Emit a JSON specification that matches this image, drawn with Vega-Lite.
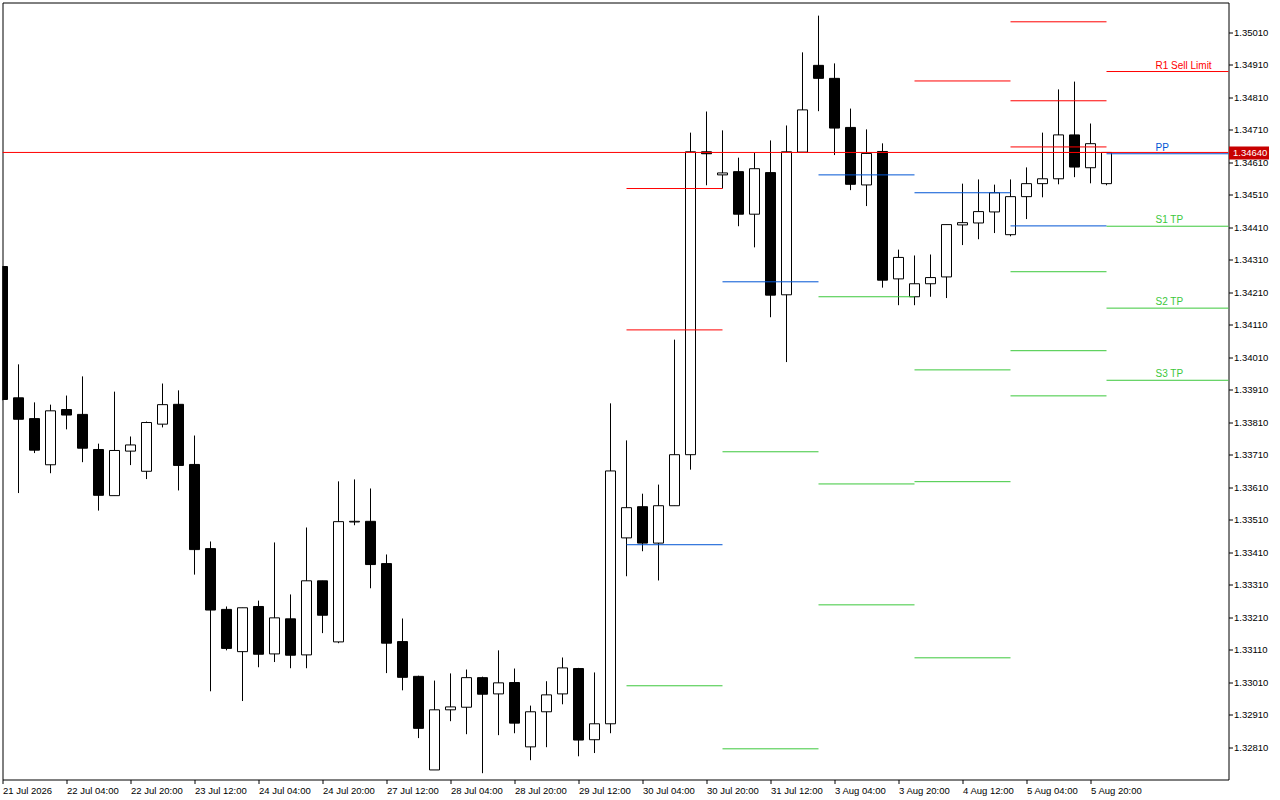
{
  "$schema": "https://vega.github.io/schema/vega-lite/v6.json",
  "width": 1226,
  "height": 777,
  "autosize": "none",
  "padding": {"left": 2.5, "top": 2.5, "right": 51.5, "bottom": 20.5},
  "background": "#ffffff",
  "config": {
    "view": {"stroke": "#000000", "strokeWidth": 1},
    "axis": {"labelFont": "Liberation Sans", "labelFontSize": 9.5, "labelColor": "#000000", "tickColor": "#000000", "labelOverlap": false}
  },
  "resolve": {"axis": {"x": "independent", "y": "independent"}},
  "datasets": {
    "candles": [
      {"t": "21 Jul 2026", "open": 1.34289, "high": 1.34289, "low": 1.33877, "close": 1.33880},
      {"t": "21 Jul 16:00", "open": 1.33885, "high": 1.33988, "low": 1.33592, "close": 1.33819},
      {"t": "21 Jul 20:00", "open": 1.33821, "high": 1.33871, "low": 1.33715, "close": 1.33724},
      {"t": "22 Jul 00:00", "open": 1.33679, "high": 1.33864, "low": 1.33653, "close": 1.33845},
      {"t": "22 Jul 04:00", "open": 1.33849, "high": 1.33892, "low": 1.33788, "close": 1.33832},
      {"t": "22 Jul 08:00", "open": 1.33834, "high": 1.33951, "low": 1.33687, "close": 1.33730},
      {"t": "22 Jul 12:00", "open": 1.33726, "high": 1.33744, "low": 1.33538, "close": 1.33585},
      {"t": "22 Jul 16:00", "open": 1.33584, "high": 1.33904, "low": 1.33584, "close": 1.33723},
      {"t": "22 Jul 20:00", "open": 1.33721, "high": 1.33766, "low": 1.33678, "close": 1.33740},
      {"t": "23 Jul 00:00", "open": 1.33659, "high": 1.33812, "low": 1.33635, "close": 1.33809},
      {"t": "23 Jul 04:00", "open": 1.33804, "high": 1.33929, "low": 1.33794, "close": 1.33864},
      {"t": "23 Jul 08:00", "open": 1.33865, "high": 1.33908, "low": 1.33600, "close": 1.33677},
      {"t": "23 Jul 12:00", "open": 1.33680, "high": 1.33769, "low": 1.33341, "close": 1.33418},
      {"t": "23 Jul 16:00", "open": 1.33421, "high": 1.33443, "low": 1.32982, "close": 1.33232},
      {"t": "23 Jul 20:00", "open": 1.33234, "high": 1.33243, "low": 1.33108, "close": 1.33114},
      {"t": "24 Jul 00:00", "open": 1.33104, "high": 1.33239, "low": 1.32952, "close": 1.33239},
      {"t": "24 Jul 04:00", "open": 1.33243, "high": 1.33261, "low": 1.33056, "close": 1.33096},
      {"t": "24 Jul 08:00", "open": 1.33097, "high": 1.33440, "low": 1.33072, "close": 1.33208},
      {"t": "24 Jul 12:00", "open": 1.33205, "high": 1.33280, "low": 1.33053, "close": 1.33093},
      {"t": "24 Jul 16:00", "open": 1.33094, "high": 1.33486, "low": 1.33053, "close": 1.33322},
      {"t": "24 Jul 20:00", "open": 1.33322, "high": 1.33322, "low": 1.33161, "close": 1.33216},
      {"t": "27 Jul 00:00", "open": 1.33134, "high": 1.33628, "low": 1.33130, "close": 1.33504},
      {"t": "27 Jul 04:00", "open": 1.33503, "high": 1.33634, "low": 1.33493, "close": 1.33505},
      {"t": "27 Jul 08:00", "open": 1.33505, "high": 1.33606, "low": 1.33299, "close": 1.33372},
      {"t": "27 Jul 12:00", "open": 1.33375, "high": 1.33403, "low": 1.33038, "close": 1.33130},
      {"t": "27 Jul 16:00", "open": 1.33135, "high": 1.33206, "low": 1.32985, "close": 1.33025},
      {"t": "27 Jul 20:00", "open": 1.33028, "high": 1.33030, "low": 1.32838, "close": 1.32868},
      {"t": "28 Jul 00:00", "open": 1.32740, "high": 1.33015, "low": 1.32740, "close": 1.32925},
      {"t": "28 Jul 04:00", "open": 1.32925, "high": 1.33037, "low": 1.32890, "close": 1.32934},
      {"t": "28 Jul 08:00", "open": 1.32933, "high": 1.33049, "low": 1.32850, "close": 1.33024},
      {"t": "28 Jul 12:00", "open": 1.33024, "high": 1.33027, "low": 1.32730, "close": 1.32973},
      {"t": "28 Jul 16:00", "open": 1.32974, "high": 1.33108, "low": 1.32847, "close": 1.33008},
      {"t": "28 Jul 20:00", "open": 1.33009, "high": 1.33052, "low": 1.32853, "close": 1.32884},
      {"t": "29 Jul 00:00", "open": 1.32811, "high": 1.32938, "low": 1.32770, "close": 1.32919},
      {"t": "29 Jul 04:00", "open": 1.32919, "high": 1.33013, "low": 1.32810, "close": 1.32971},
      {"t": "29 Jul 08:00", "open": 1.32974, "high": 1.33086, "low": 1.32942, "close": 1.33054},
      {"t": "29 Jul 12:00", "open": 1.33052, "high": 1.33054, "low": 1.32782, "close": 1.32832},
      {"t": "29 Jul 16:00", "open": 1.32833, "high": 1.33040, "low": 1.32792, "close": 1.32882},
      {"t": "29 Jul 20:00", "open": 1.32882, "high": 1.33868, "low": 1.32853, "close": 1.33660},
      {"t": "30 Jul 00:00", "open": 1.33454, "high": 1.33754, "low": 1.33336, "close": 1.33547},
      {"t": "30 Jul 04:00", "open": 1.33550, "high": 1.33590, "low": 1.33413, "close": 1.33438},
      {"t": "30 Jul 08:00", "open": 1.33438, "high": 1.33618, "low": 1.33323, "close": 1.33553},
      {"t": "30 Jul 12:00", "open": 1.33553, "high": 1.34064, "low": 1.33553, "close": 1.33710},
      {"t": "30 Jul 16:00", "open": 1.33710, "high": 1.34701, "low": 1.33664, "close": 1.34642},
      {"t": "30 Jul 20:00", "open": 1.34642, "high": 1.34766, "low": 1.34539, "close": 1.34636},
      {"t": "31 Jul 00:00", "open": 1.34571, "high": 1.34708, "low": 1.34529, "close": 1.34577},
      {"t": "31 Jul 04:00", "open": 1.34581, "high": 1.34624, "low": 1.34413, "close": 1.34450},
      {"t": "31 Jul 08:00", "open": 1.34450, "high": 1.34639, "low": 1.34348, "close": 1.34590},
      {"t": "31 Jul 12:00", "open": 1.34578, "high": 1.34677, "low": 1.34133, "close": 1.34201},
      {"t": "31 Jul 16:00", "open": 1.34202, "high": 1.34723, "low": 1.33995, "close": 1.34642},
      {"t": "31 Jul 20:00", "open": 1.34641, "high": 1.34948, "low": 1.34641, "close": 1.34771},
      {"t": "3 Aug 00:00", "open": 1.34908, "high": 1.35061, "low": 1.34767, "close": 1.34868},
      {"t": "3 Aug 04:00", "open": 1.34868, "high": 1.34914, "low": 1.34632, "close": 1.34715},
      {"t": "3 Aug 08:00", "open": 1.34717, "high": 1.34775, "low": 1.34524, "close": 1.34542},
      {"t": "3 Aug 12:00", "open": 1.34540, "high": 1.34711, "low": 1.34475, "close": 1.34637},
      {"t": "3 Aug 16:00", "open": 1.34643, "high": 1.34668, "low": 1.34224, "close": 1.34247},
      {"t": "3 Aug 20:00", "open": 1.34251, "high": 1.34341, "low": 1.34170, "close": 1.34317},
      {"t": "4 Aug 00:00", "open": 1.34196, "high": 1.34323, "low": 1.34170, "close": 1.34236},
      {"t": "4 Aug 04:00", "open": 1.34236, "high": 1.34326, "low": 1.34196, "close": 1.34255},
      {"t": "4 Aug 08:00", "open": 1.34257, "high": 1.34418, "low": 1.34192, "close": 1.34418},
      {"t": "4 Aug 12:00", "open": 1.34417, "high": 1.34544, "low": 1.34355, "close": 1.34424},
      {"t": "4 Aug 16:00", "open": 1.34423, "high": 1.34557, "low": 1.34373, "close": 1.34458},
      {"t": "4 Aug 20:00", "open": 1.34457, "high": 1.34541, "low": 1.34392, "close": 1.34516},
      {"t": "5 Aug 00:00", "open": 1.34387, "high": 1.34557, "low": 1.34382, "close": 1.34504},
      {"t": "5 Aug 04:00", "open": 1.34504, "high": 1.34594, "low": 1.34435, "close": 1.34544},
      {"t": "5 Aug 08:00", "open": 1.34544, "high": 1.34701, "low": 1.34502, "close": 1.34559},
      {"t": "5 Aug 12:00", "open": 1.34559, "high": 1.34834, "low": 1.34542, "close": 1.34694},
      {"t": "5 Aug 16:00", "open": 1.34694, "high": 1.34858, "low": 1.34564, "close": 1.34595},
      {"t": "5 Aug 20:00", "open": 1.34593, "high": 1.34729, "low": 1.34545, "close": 1.34667},
      {"t": "6 Aug 00:00", "open": 1.34544, "high": 1.34640, "low": 1.34539, "close": 1.34640}
    ],
    "levels": [
      {"from": "30 Jul 00:00", "to": "31 Jul 00:00", "level": "R2", "kind": "R", "price": 1.34529},
      {"from": "30 Jul 00:00", "to": "31 Jul 00:00", "level": "R1", "kind": "R", "price": 1.34094},
      {"from": "30 Jul 00:00", "to": "31 Jul 00:00", "level": "PP", "kind": "P", "price": 1.33433},
      {"from": "30 Jul 00:00", "to": "31 Jul 00:00", "level": "S1", "kind": "S", "price": 1.32999},
      {"from": "31 Jul 00:00", "to": "3 Aug 00:00", "level": "PP", "kind": "P", "price": 1.34242},
      {"from": "31 Jul 00:00", "to": "3 Aug 00:00", "level": "S1", "kind": "S", "price": 1.33719},
      {"from": "31 Jul 00:00", "to": "3 Aug 00:00", "level": "S2", "kind": "S", "price": 1.32805},
      {"from": "3 Aug 00:00", "to": "4 Aug 00:00", "level": "PP", "kind": "P", "price": 1.34571},
      {"from": "3 Aug 00:00", "to": "4 Aug 00:00", "level": "S1", "kind": "S", "price": 1.34196},
      {"from": "3 Aug 00:00", "to": "4 Aug 00:00", "level": "S2", "kind": "S", "price": 1.33620},
      {"from": "3 Aug 00:00", "to": "4 Aug 00:00", "level": "S3", "kind": "S", "price": 1.33248},
      {"from": "4 Aug 00:00", "to": "5 Aug 00:00", "level": "R1", "kind": "R", "price": 1.34860},
      {"from": "4 Aug 00:00", "to": "5 Aug 00:00", "level": "PP", "kind": "P", "price": 1.34516},
      {"from": "4 Aug 00:00", "to": "5 Aug 00:00", "level": "S1", "kind": "S", "price": 1.33971},
      {"from": "4 Aug 00:00", "to": "5 Aug 00:00", "level": "S2", "kind": "S", "price": 1.33627},
      {"from": "4 Aug 00:00", "to": "5 Aug 00:00", "level": "S3", "kind": "S", "price": 1.33085},
      {"from": "5 Aug 00:00", "to": "6 Aug 00:00", "level": "R3", "kind": "R", "price": 1.35042},
      {"from": "5 Aug 00:00", "to": "6 Aug 00:00", "level": "R2", "kind": "R", "price": 1.34799},
      {"from": "5 Aug 00:00", "to": "6 Aug 00:00", "level": "R1", "kind": "R", "price": 1.34657},
      {"from": "5 Aug 00:00", "to": "6 Aug 00:00", "level": "PP", "kind": "P", "price": 1.34414},
      {"from": "5 Aug 00:00", "to": "6 Aug 00:00", "level": "S1", "kind": "S", "price": 1.34273},
      {"from": "5 Aug 00:00", "to": "6 Aug 00:00", "level": "S2", "kind": "S", "price": 1.34030},
      {"from": "5 Aug 00:00", "to": "6 Aug 00:00", "level": "S3", "kind": "S", "price": 1.33891},
      {"from": "6 Aug 00:00", "to": "7 Aug 08:00", "level": "R1", "kind": "R", "price": 1.34889, "label": "R1 Sell Limit"},
      {"from": "6 Aug 00:00", "to": "7 Aug 08:00", "level": "PP", "kind": "P", "price": 1.34636, "label": "PP"},
      {"from": "6 Aug 00:00", "to": "7 Aug 08:00", "level": "S1", "kind": "S", "price": 1.34413, "label": "S1 TP"},
      {"from": "6 Aug 00:00", "to": "7 Aug 08:00", "level": "S2", "kind": "S", "price": 1.34161, "label": "S2 TP"},
      {"from": "6 Aug 00:00", "to": "7 Aug 08:00", "level": "S3", "kind": "S", "price": 1.33939, "label": "S3 TP"}
    ],
    "bid": [{"price": 1.3464}]
  },
  "layer": [
    {
      "data": {"name": "candles"},
      "mark": {"type": "rule", "color": "#000000", "strokeWidth": 1, "clip": true},
      "encoding": {
        "x": {
          "field": "t", "type": "ordinal", "title": null,
          "scale": {
            "type": "point", "range": [0, 1232], "padding": 0,
            "domain": ["21 Jul 2026", "21 Jul 16:00", "21 Jul 20:00", "22 Jul 00:00", "22 Jul 04:00", "22 Jul 08:00", "22 Jul 12:00", "22 Jul 16:00", "22 Jul 20:00", "23 Jul 00:00", "23 Jul 04:00", "23 Jul 08:00", "23 Jul 12:00", "23 Jul 16:00", "23 Jul 20:00", "24 Jul 00:00", "24 Jul 04:00", "24 Jul 08:00", "24 Jul 12:00", "24 Jul 16:00", "24 Jul 20:00", "27 Jul 00:00", "27 Jul 04:00", "27 Jul 08:00", "27 Jul 12:00", "27 Jul 16:00", "27 Jul 20:00", "28 Jul 00:00", "28 Jul 04:00", "28 Jul 08:00", "28 Jul 12:00", "28 Jul 16:00", "28 Jul 20:00", "29 Jul 00:00", "29 Jul 04:00", "29 Jul 08:00", "29 Jul 12:00", "29 Jul 16:00", "29 Jul 20:00", "30 Jul 00:00", "30 Jul 04:00", "30 Jul 08:00", "30 Jul 12:00", "30 Jul 16:00", "30 Jul 20:00", "31 Jul 00:00", "31 Jul 04:00", "31 Jul 08:00", "31 Jul 12:00", "31 Jul 16:00", "31 Jul 20:00", "3 Aug 00:00", "3 Aug 04:00", "3 Aug 08:00", "3 Aug 12:00", "3 Aug 16:00", "3 Aug 20:00", "4 Aug 00:00", "4 Aug 04:00", "4 Aug 08:00", "4 Aug 12:00", "4 Aug 16:00", "4 Aug 20:00", "5 Aug 00:00", "5 Aug 04:00", "5 Aug 08:00", "5 Aug 12:00", "5 Aug 16:00", "5 Aug 20:00", "6 Aug 00:00", "6 Aug 04:00", "6 Aug 08:00", "6 Aug 12:00", "6 Aug 16:00", "6 Aug 20:00", "7 Aug 00:00", "7 Aug 04:00", "7 Aug 08:00"]
          },
          "axis": {
            "orient": "bottom",
            "values": ["21 Jul 2026", "22 Jul 04:00", "22 Jul 20:00", "23 Jul 12:00", "24 Jul 04:00", "24 Jul 20:00", "27 Jul 12:00", "28 Jul 04:00", "28 Jul 20:00", "29 Jul 12:00", "30 Jul 04:00", "30 Jul 20:00", "31 Jul 12:00", "3 Aug 04:00", "3 Aug 20:00", "4 Aug 12:00", "5 Aug 04:00", "5 Aug 20:00"],
            "domain": false, "grid": false, "title": null,
            "tickSize": 4, "labelAlign": "left", "labelPadding": 2,
            "labelOverlap": false, "labelBound": false, "labelFlush": false, "labelAngle": 0
          }
        },
        "y": {
          "field": "low", "type": "quantitative", "title": null,
          "scale": {"domain": [1.327106, 1.351014], "nice": false, "zero": false},
          "axis": {
            "orient": "right",
            "values": [1.3281, 1.3291, 1.3301, 1.3311, 1.3321, 1.3331, 1.3341, 1.3351, 1.3361, 1.3371, 1.3381, 1.3391, 1.3401, 1.3411, 1.3421, 1.3431, 1.3441, 1.3451, 1.3461, 1.3471, 1.3481, 1.3491, 1.3501, 1.3464],
            "format": ".5f", "domain": false, "grid": false, "title": null,
            "tickSize": {"condition": {"test": "datum.value == 1.3464", "value": 40}, "value": 4},
            "tickWidth": {"condition": {"test": "datum.value == 1.3464", "value": 13}, "value": 1},
            "tickColor": {"condition": {"test": "datum.value == 1.3464", "value": "#c80000"}, "value": "#000000"},
            "labelColor": {"condition": {"test": "datum.value == 1.3464", "value": "#ffffff"}, "value": "#000000"},
            "labelPadding": {"condition": {"test": "datum.value == 1.3464", "value": -36}, "value": 1},
            "labelOverlap": false, "labelBound": false, "labelFlush": false
          }
        },
        "y2": {"field": "high"}
      }
    },
    {
      "data": {"name": "candles"},
      "mark": {"type": "bar", "width": 10, "stroke": "#000000", "strokeWidth": 1, "clip": true, "orient": "vertical"},
      "encoding": {
        "x": {"field": "t", "type": "ordinal", "title": null, "axis": null},
        "y": {"field": "open", "type": "quantitative", "title": null, "axis": null},
        "y2": {"field": "close"},
        "fill": {"condition": {"test": "datum.close >= datum.open", "value": "#ffffff"}, "value": "#000000"}
      }
    },
    {
      "data": {"name": "levels"},
      "mark": {"type": "rule", "strokeWidth": 1, "clip": true},
      "encoding": {
        "x": {"field": "from", "type": "ordinal", "title": null, "axis": null},
        "x2": {"field": "to"},
        "y": {"field": "price", "type": "quantitative", "title": null, "axis": null},
        "color": {"field": "kind", "type": "nominal", "legend": null, "scale": {"domain": ["R", "P", "S"], "range": ["#ff0000", "#0055d4", "#3cc83c"]}}
      }
    },
    {
      "data": {"name": "bid"},
      "mark": {"type": "rule", "color": "#ff0000", "strokeWidth": 1, "clip": true},
      "encoding": {
        "y": {"field": "price", "type": "quantitative", "title": null, "axis": null}
      }
    },
    {
      "data": {"name": "levels"},
      "transform": [{"filter": "isValid(datum.label)"}],
      "mark": {"type": "text", "align": "left", "baseline": "alphabetic", "dx": 49, "dy": -3, "font": "Liberation Sans", "fontSize": 10, "clip": false},
      "encoding": {
        "x": {"field": "from", "type": "ordinal", "title": null, "axis": null},
        "y": {"field": "price", "type": "quantitative", "title": null, "axis": null},
        "text": {"field": "label"},
        "color": {"field": "kind", "type": "nominal", "legend": null}
      }
    }
  ]
}
